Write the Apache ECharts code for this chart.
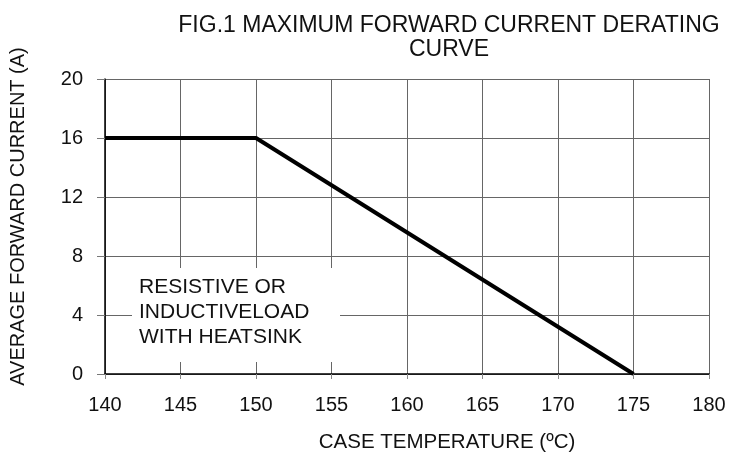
<!DOCTYPE html>
<html><head><meta charset="utf-8">
<script src="https://cdn.jsdelivr.net/npm/echarts@6/dist/echarts.min.js"></script>
<style>html,body{margin:0;padding:0;background:#fff}#c{width:731px;height:460px}</style>
</head><body><div id="c"></div>
<script>
const temps = [140, 150, 175];
const currents = [16, 16, 0];
const xTicks = [140,145,150,155,160,165,170,175,180];
const yTicks = [0,4,8,12,16,20];
const FN = '"Liberation Sans", Arial, sans-serif';
const chart = echarts.init(document.getElementById('c'));
chart.setOption({
  animation:false,
  backgroundColor:'#fff',
  title:{text:'FIG.1 MAXIMUM FORWARD CURRENT DERATING\nCURVE', left:444, top:9, textAlign:'center',
    textStyle:{fontFamily:FN, fontWeight:'normal', fontSize:23, color:'#111', lineHeight:24}},
  grid:{left:105, right:22, top:79, bottom:86},
  xAxis:{type:'value', min:140, max:180, interval:5,
    name:'CASE TEMPERATURE (ºC)', nameLocation:'middle', nameGap:58,
    nameTextStyle:{fontFamily:FN, fontSize:20.5, color:'#111', padding:[0,0,0,80]},
    axisLine:{onZero:false, lineStyle:{color:'#000', width:1.5}},
    axisTick:{show:true, length:5, lineStyle:{color:'#888'}},
    axisLabel:{fontFamily:FN, fontSize:20, color:'#111', margin:21},
    splitLine:{show:true, lineStyle:{color:'#666', width:1}}},
  yAxis:{type:'value', min:0, max:20, interval:4,
    name:'AVERAGE FORWARD CURRENT (A)', nameLocation:'middle', nameGap:77, nameRotate:90,
    nameTextStyle:{fontFamily:FN, fontSize:20, color:'#111', padding:[0,0,0,20]},
    axisLine:{show:true, lineStyle:{color:'#000', width:1.5}},
    axisTick:{show:true, length:8, lineStyle:{color:'#777'}},
    axisLabel:{fontFamily:FN, fontSize:20, color:'#111', margin:22},
    splitLine:{show:true, lineStyle:{color:'#666', width:1}}},
  graphic:[{type:'text', left:132, top:268, z:100,
    style:{text:'RESISTIVE OR\nINDUCTIVELOAD\nWITH HEATSINK', fontFamily:FN,
      fontSize:21, lineHeight:25, fill:'#111', backgroundColor:'#fff', padding:[7,5,12,7], width:196}}],
  series:[{type:'line', data:temps.map((t,i)=>[t,currents[i]]), symbol:'none',
    lineStyle:{color:'#000', width:4}, z:3}]
});
</script></body></html>
